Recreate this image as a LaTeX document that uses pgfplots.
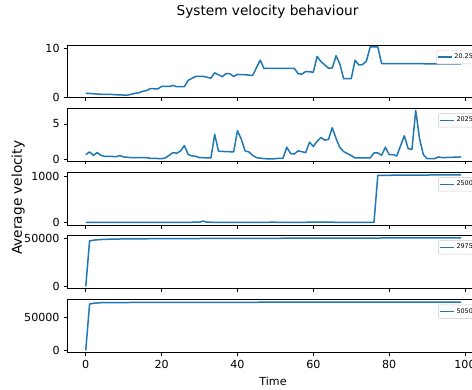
\documentclass[border=0pt]{standalone}
\usepackage{fontspec}
\setmainfont{DejaVu Sans}
\usepackage{pgfplots}
\pgfplotsset{compat=1.18}
\definecolor{mplblue}{HTML}{1F77B4}
\pgfplotsset{
 vel/.style={color=mplblue, line width=1.35pt, line join=round, mark=none},
 sub/.style={
  scale only axis, width=371.7pt, height=47.4pt,
  anchor=north west,
  xmin=-4.95, xmax=103.95,
  xtick={0,20,40,60,80,100},
  tick align=outside, tick pos=left,
  major tick length=3.15pt,
  tick style={black, line width=0.72pt},
  axis line style={line width=0.72pt},
  /pgf/number format/assume math mode=true,
  tick label style={font=\fontsize{10}{12}\selectfont},
  scaled y ticks=false,
  legend style={at={(rel axis cs:0.992,0.905)}, anchor=north east, draw=black!20, rounded corners=1pt, fill=white, font=\fontsize{5.8}{6.5}\selectfont, inner sep=1.2pt},
  legend cell align=left,
  legend image code/.code={\draw[mplblue,line width=1.2pt] (0pt,0pt) -- (12pt,0pt);},
 }
}
\begin{document}
\begin{tikzpicture}
% 1
\begin{axis}[sub, at={(60.3pt,-40.5pt)}, ymin=-0.1, ymax=10.7, ytick={0,10}, yticklabels={0,10}, xticklabels={}]
\addplot[vel] coordinates {(0,0.81)(4,0.6)(6,0.6)(8,0.5)(11,0.4)(13,0.8)(14,0.9)(15,1.2)(16,1.35)(17,1.75)(19,1.7)(20,2.2)(22,2.2)(23,2.4)(24,2.15)(26,2.15)(27,3.45)(29,4.26)(31,4.26)(33,3.9)(34,5.0)(36,4.2)(37,4.86)(38,4.8)(39,4.26)(40,4.66)(42,4.6)(44,4.46)(46,7.6)(47,5.9)(50,5.9)(55,5.9)(56,4.8)(57,4.73)(58,5.27)(60,5.13)(61,8.38)(62,7.3)(64,5.95)(65,6.0)(66,8.5)(67,6.8)(68,3.78)(70,3.78)(71,7.6)(72,6.6)(73,6.7)(74,7.4)(75,10.3)(77,10.3)(78,6.9)(81,6.9)(90,6.85)(99,6.85)};
\addlegendentry{20.25}
\end{axis}
% 2
\begin{axis}[sub, at={(60.3pt,-97.5pt)}, ymin=-0.19, ymax=7.2, ytick={0,5}, yticklabels={0,5}, xticklabels={}]
\addplot[vel] coordinates {(0,0.71)(1,1.08)(2,0.61)(3,0.99)(4,0.61)(5,0.47)(6,0.47)(8,0.42)(9,0.57)(10,0.38)(12,0.28)(16,0.28)(17,0.19)(20,0.14)(21,0.24)(23,0.99)(24,0.9)(25,1.23)(26,1.98)(27,0.71)(28,0.52)(29,0.47)(30,0.28)(33,0.24)(34,3.54)(35,1.18)(39,1.08)(40,4.06)(41,2.88)(42,1.23)(43,1.08)(44,0.61)(45,0.28)(47,0.14)(49,0.09)(51,0.19)(52,0.19)(53,1.75)(54,0.85)(55,0.8)(56,1.23)(58,0.99)(59,2.45)(60,1.84)(61,2.59)(62,3.11)(63,2.74)(64,2.83)(65,4.48)(66,2.97)(67,1.70)(68,1.13)(70,0.57)(71,0.24)(75,0.24)(76,0.94)(77,0.94)(78,0.61)(79,1.75)(80,0.71)(81,0.71)(82,0.52)(84,3.35)(85,1.56)(86,1.42)(87,6.89)(88,2.97)(89,0.71)(90,0.14)(92,0.14)(93,0.38)(94,0.28)(99,0.38)};
\addlegendentry{2025}
\end{axis}
% 3
\begin{axis}[sub, at={(60.3pt,-155.1pt)}, ymin=-50, ymax=1093, ytick={0,1000}, yticklabels={0,1000}, xticklabels={}]
\addplot[vel] coordinates {(0,5)(10,6)(20,8)(25,6)(30,12)(31,35)(32,10)(40,8)(50,10)(55,6)(60,12)(70,8)(76,6)(77,1028)(85,1032)(99,1040)};
\addlegendentry{2500}
\end{axis}
% 4
\begin{axis}[sub, at={(60.3pt,-211.8pt)}, ymin=-1736, ymax=53470, ytick={0,50000}, yticklabels={0,50000}, xticklabels={}]
\addplot[vel] coordinates {(0,0)(1,47500)(2,48400)(3,48800)(5,49300)(10,49700)(20,50000)(40,50300)(60,50500)(80,50700)(99,50900)};
\addlegendentry{2975}
\end{axis}
% 5
\begin{axis}[sub, at={(60.3pt,-269.7pt)}, ymin=-3061, ymax=77550, ytick={0,50000}, yticklabels={0,50000}, xticklabels={0,20,40,60,80,100}]
\addplot[vel] coordinates {(0,0)(1,70900)(2,72000)(4,72900)(10,73200)(30,73500)(60,73700)(99,73900)};
\addlegendentry{5050}
\end{axis}
\node[font=\fontsize{12.3}{14}\selectfont] at (240.8pt,-10.8pt) {System velocity behaviour};
\node[font=\fontsize{12.3}{14}\selectfont, rotate=90] at (16.2pt,-178pt) {Average velocity};
\node[font=\fontsize{10}{12}\selectfont] at (245.7pt,-342.9pt) {Time};
\pgfresetboundingbox
\path[use as bounding box] (0pt,0pt) rectangle (424.8pt,-350.1pt);
\end{tikzpicture}
\end{document}
